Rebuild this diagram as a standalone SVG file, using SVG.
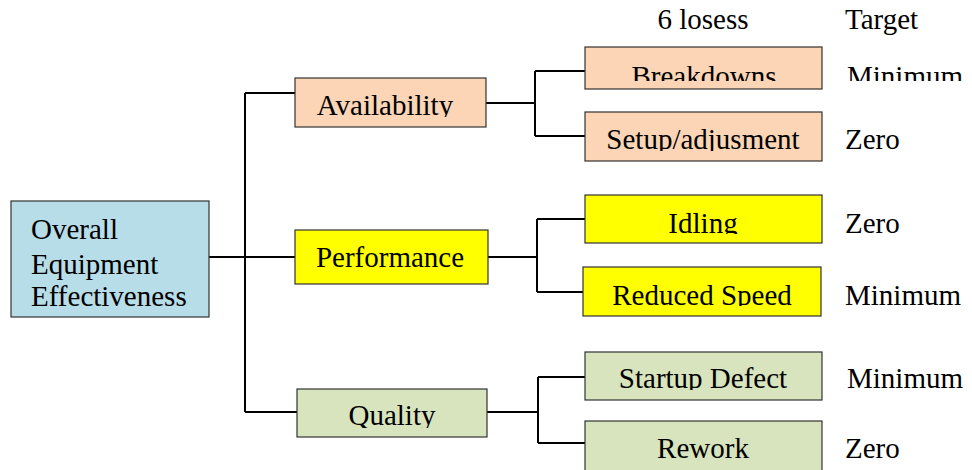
<svg xmlns="http://www.w3.org/2000/svg" width="972" height="470" viewBox="0 0 972 470">
<style>
text{font-family:"Liberation Serif","Times New Roman",serif;font-size:29px;fill:#000}
.c{text-anchor:middle}
.box{stroke:#333;stroke-width:1.2}
.blue{fill:#b7dde8}.peach{fill:#fbd5b5}.yel{fill:#ffff00}.grn{fill:#d7e4bd}
.conn{fill:none;stroke:#000;stroke-width:2}
</style>
<defs>
<clipPath id="c1"><rect x="580" y="40" width="392" height="41"/></clipPath>
<clipPath id="c2"><rect x="580" y="110" width="250" height="41"/></clipPath>
<clipPath id="c3"><rect x="290" y="80" width="200" height="37"/></clipPath>
<clipPath id="c4"><rect x="580" y="196" width="250" height="38"/></clipPath>
<clipPath id="c5"><rect x="580" y="268" width="250" height="38"/></clipPath>
<clipPath id="c6"><rect x="290" y="390" width="200" height="38"/></clipPath>
<clipPath id="c7"><rect x="580" y="353" width="250" height="37"/></clipPath>
</defs>
<g id="connectors">
<path class="conn" d="M209,257 H295 M245,93 V412 M245,93 H295 M245,412 H297"/>
<path class="conn" d="M486,103 H535 M535,71 V136 M535,71 H585 M535,136 H585"/>
<path class="conn" d="M488,257 H537 M537,219 V292 M537,219 H585 M537,292 H583"/>
<path class="conn" d="M487,412 H538 M538,377 V443 M538,377 H585 M538,443 H585"/>
</g>
<g id="header">
<text class="c" x="703" y="29">6 losess</text>
<text x="845" y="29">Target</text>
</g>
<g id="oee">
<rect class="box blue" x="11" y="201" width="198" height="116"/>
<text x="31" y="239">Overall</text>
<text x="31" y="274">Equipment</text>
<text x="31" y="306">Effectiveness</text>
</g>
<g id="availability">
<rect class="box peach" x="295" y="78" width="191" height="49"/>
<text class="c" x="385" y="115" clip-path="url(#c3)">Availability</text>
</g>
<g id="performance">
<rect class="box yel" x="295" y="230" width="193" height="54"/>
<text class="c" x="390" y="267">Performance</text>
</g>
<g id="quality">
<rect class="box grn" x="297" y="389" width="190" height="48"/>
<text class="c" x="392" y="425" clip-path="url(#c6)">Quality</text>
</g>
<g id="breakdowns">
<rect class="box peach" x="585" y="47" width="237" height="42"/>
<text class="c" x="704" y="86" clip-path="url(#c1)">Breakdowns</text>
<text x="847" y="86" clip-path="url(#c1)">Minimum</text>
</g>
<g id="setup">
<rect class="box peach" x="585" y="112" width="237" height="49"/>
<text class="c" x="703" y="149" clip-path="url(#c2)">Setup/adjusment</text>
<text x="845" y="149">Zero</text>
</g>
<g id="idling">
<rect class="box yel" x="585" y="195" width="237" height="48"/>
<text class="c" x="703" y="233" clip-path="url(#c4)">Idling</text>
<text x="845" y="233">Zero</text>
</g>
<g id="reduced">
<rect class="box yel" x="583" y="267" width="238" height="49"/>
<text class="c" x="702" y="305" clip-path="url(#c5)">Reduced Speed</text>
<text x="845" y="305">Minimum</text>
</g>
<g id="startup">
<rect class="box grn" x="585" y="352" width="237" height="48"/>
<text class="c" x="703" y="388" clip-path="url(#c7)">Startup Defect</text>
<text x="847" y="388">Minimum</text>
</g>
<g id="rework">
<rect class="box grn" x="585" y="421" width="237" height="55"/>
<text class="c" x="703" y="458">Rework</text>
<text x="845" y="458">Zero</text>
</g>
</svg>
